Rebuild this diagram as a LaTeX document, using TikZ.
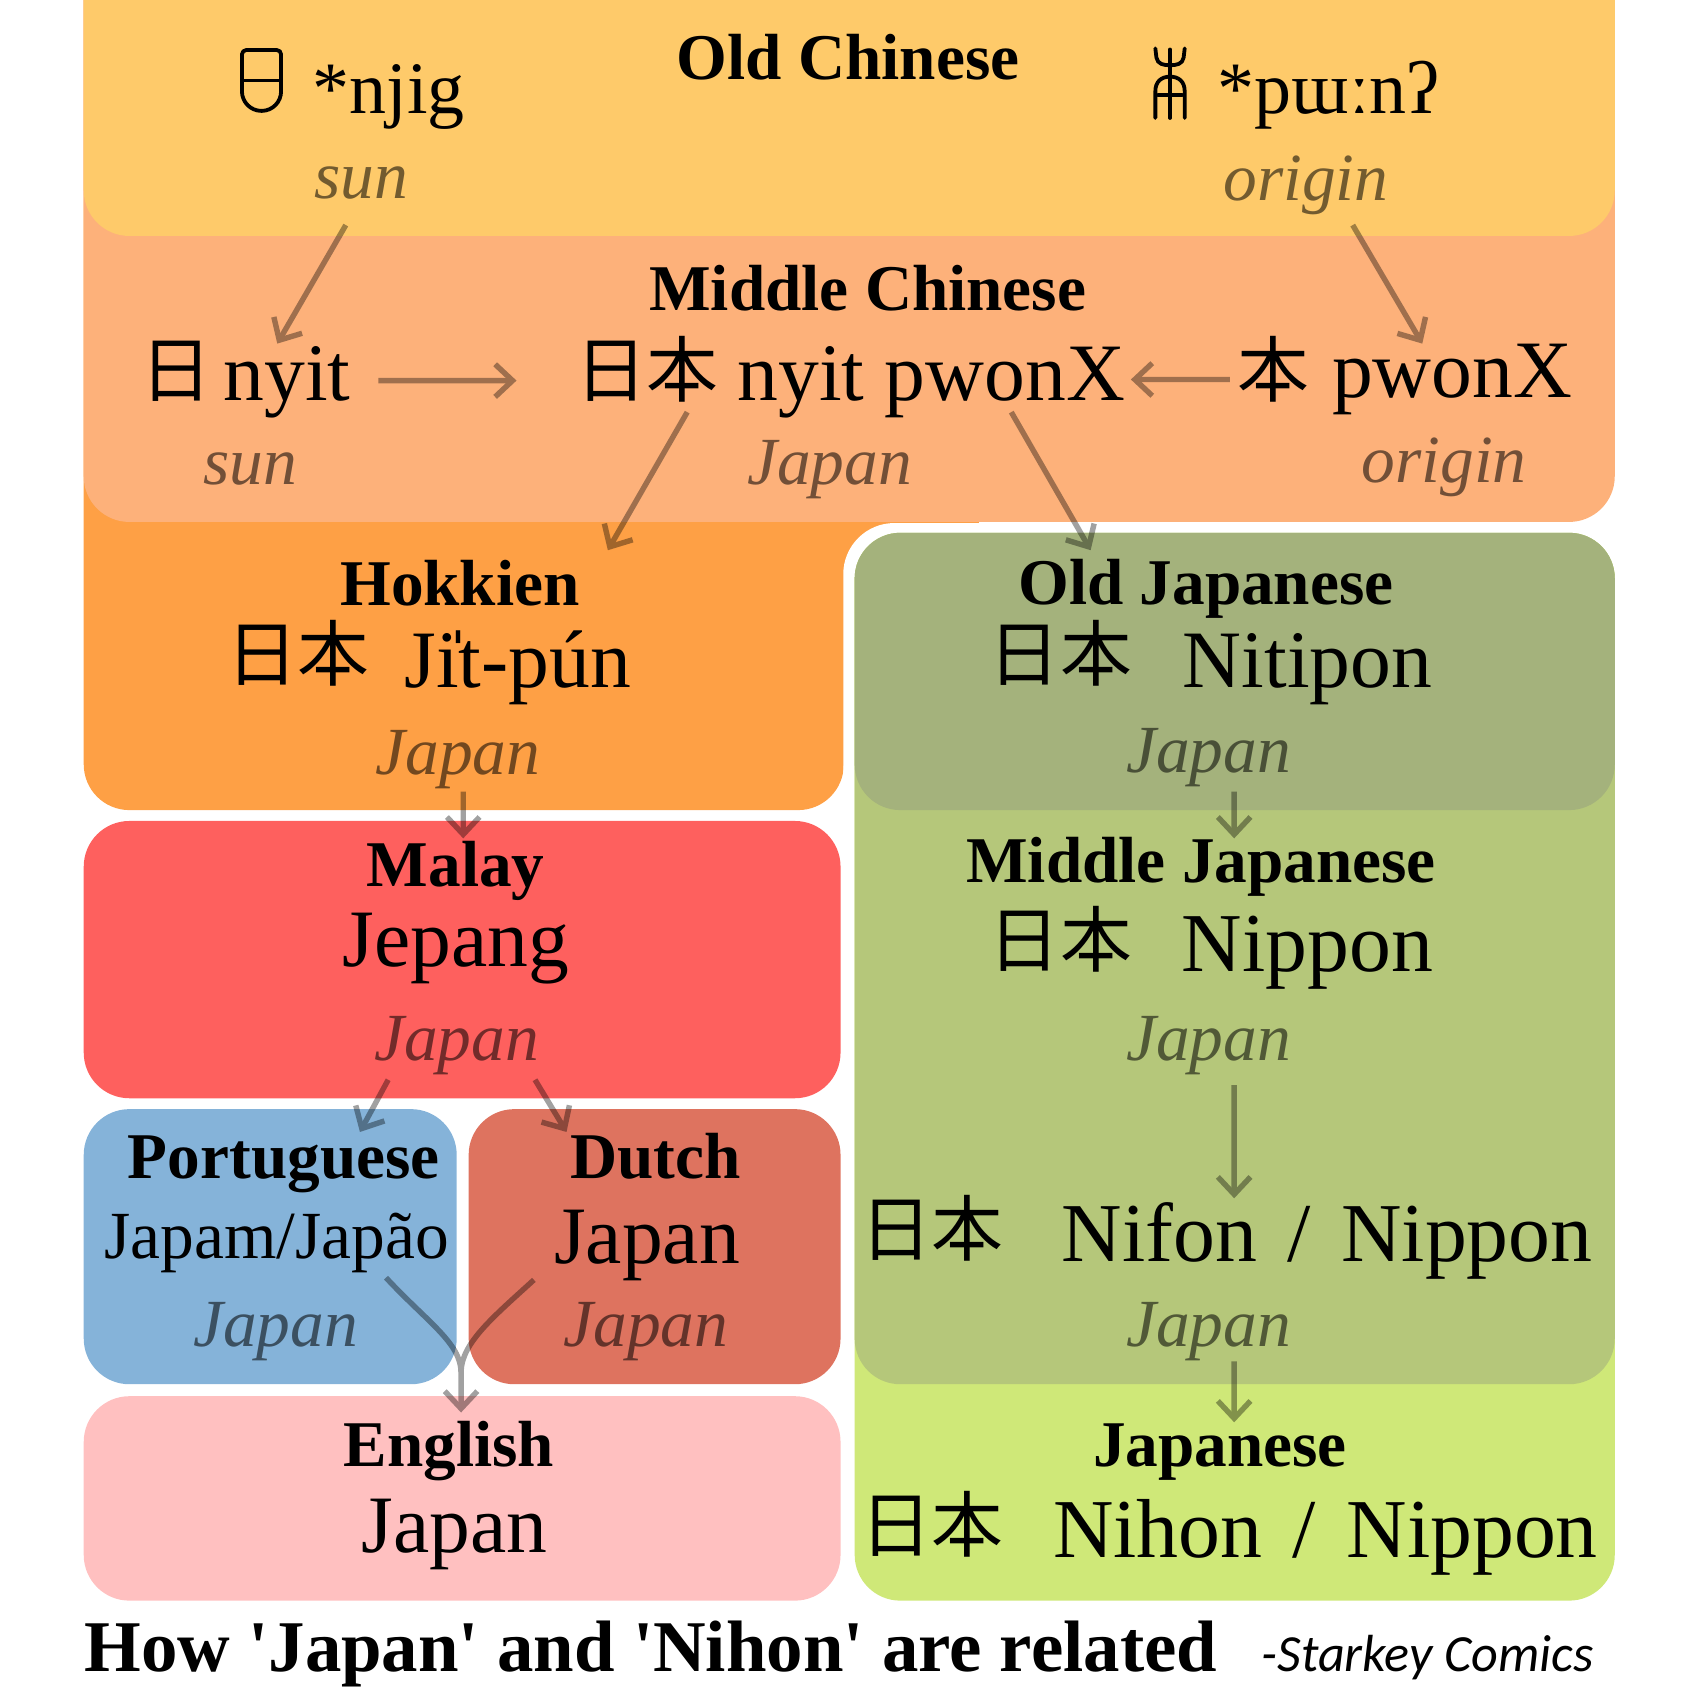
\documentclass[tikz,border=0pt]{standalone}
\usepackage{fontspec}
\setmainfont{Liberation Serif}[Ligatures=TeXOff]
\newfontfamily\cjkfont{Noto Sans CJK JP}
\newfontfamily\sigfont{Carlito}
\usetikzlibrary{arrows.meta}
\definecolor{cYellow}{RGB}{254,202,106}
\definecolor{cSalmon}{RGB}{253,177,122}
\definecolor{cOrange}{RGB}{254,160,69}
\definecolor{cMalay}{RGB}{254,96,94}
\definecolor{cBlue}{RGB}{133,179,217}
\definecolor{cDutch}{RGB}{222,115,95}
\definecolor{cPink}{RGB}{255,192,192}
\definecolor{cOJ}{RGB}{164,178,124}
\definecolor{cMJ}{RGB}{181,199,122}
\definecolor{cJ}{RGB}{207,232,120}
\tikzset{
  region/.style={rounded corners=42pt},
  head/.style={anchor=base, inner sep=0pt, font=\fontsize{60}{70}\selectfont\bfseries},
  form/.style={anchor=base, inner sep=0pt, font=\fontsize{75}{85}\selectfont},
  cjk/.style={anchor=base, inner sep=0pt, font=\fontsize{66}{76}\selectfont\cjkfont},
  gloss/.style={anchor=base, inner sep=0pt, font=\fontsize{62}{72}\selectfont\itshape, text opacity=0.55},
  seal/.style={line width=3.5pt, line cap=round, line join=round},
  link/.style={line width=5pt, -{Straight Barb[length=16pt,width=30pt]}},
  plainlink/.style={line width=5pt},
}
\begin{document}
\begin{tikzpicture}[x=1pt,y=-1pt]
\useasboundingbox (0,0) rectangle (1568,1568);
\clip (0,0) rectangle (1568,1568);
% regions
\fill[cOrange, region] (77,-60) rectangle (776,745);
\fill[cOrange] (740,440) rectangle (900,700);
\fill[cSalmon, region] (77,-60) rectangle (1485,480);
\fill[cYellow, region] (77,-60) rectangle (1485,217);
\fill[cMalay, region] (77,755) rectangle (773,1010);
\fill[cBlue, region] (77,1020) rectangle (420,1273);
\fill[cDutch, region] (431,1020) rectangle (773,1273);
\fill[cPink, region] (77,1284) rectangle (773,1472);
\fill[white, rounded corners=47pt] (775.5,481) rectangle (1496,1483);
\fill[cJ, region] (786,490) rectangle (1485,1472);
\fill[cMJ, region] (786,490) rectangle (1485,1273);
\fill[cOJ, region] (786,490) rectangle (1485,745);

% Old Chinese
\node[head] (oc) at (780,73) {Old Chinese};
\draw[seal, rounded corners=4pt] (222.5,84) -- (222.5,46) -- (258.5,46) -- (258.5,84);
\draw[seal] (258.5,84) arc[start angle=0, end angle=180, radius=18];
\draw[seal] (222.5,74) -- (258.5,74);
\node[form, font=\fontsize{68}{78}\selectfont] (njig) at (357.5,104) {*njig};
\node[gloss] (sun1) at (332,183) {sun};
\draw[seal] (1076,45.5) -- (1076,108.5);
\draw[seal] (1062.5,44.5) -- (1063.5,53) .. controls (1064.5,59) and (1070,60) .. (1076,60);
\draw[seal] (1089.5,44.5) -- (1088.5,53) .. controls (1087.5,59) and (1082,60) .. (1076,60);
\draw[seal] (1062.5,108.5) -- (1062.5,84) .. controls (1062.5,75) and (1068,70.5) .. (1076,70.5)
   .. controls (1084,70.5) and (1089.5,75) .. (1089.5,84) -- (1089.5,108.5);
\draw[seal] (1065,87.5) -- (1087,87.5);
\node[form, font=\fontsize{68}{78}\selectfont] (pwun) at (1222,104) {*pɯːnʔ};
\node[gloss] (orig1) at (1201,184) {origin};

% Middle Chinese
\node[head] (mc) at (798,286) {Middle Chinese};
\node[cjk] (ri) at (162,365) {日};
\node[form] (nyit) at (264,368) {nyit};
\node[cjk] (riben) at (595,365) {日本};
\node[form] (nyitpwon) at (856.5,368) {nyit pwonX};
\node[cjk] (ben) at (1171.5,365) {本};
\node[form] (pwon) at (1335.5,366) {pwonX};
\node[gloss] (sun2) at (230,446) {sun};
\node[gloss] (jp1) at (763,446) {Japan};
\node[gloss] (orig2) at (1328,444) {origin};

% Hokkien
\node[head] (hok) at (423,557) {Hokkien};
\node[cjk] (hokcjk) at (274,626) {日本};
\node[form] (jitpun) at (476,632) {Ji̍t-pún};
\node[gloss] (jp2) at (421,712) {Japan};

% Malay
\node[head] (mal) at (419,815) {Malay};
\node[form] (jepang) at (419.5,889) {Jepang};
\node[gloss] (jp3) at (420,975) {Japan};

% Portuguese
\node[head] (por) at (261,1084) {Portuguese};
\node[form, font=\fontsize{62}{72}\selectfont] (japao) at (254.5,1157) {Japam/Japão};
\node[gloss] (jp4) at (253.5,1238) {Japan};

% Dutch
\node[head] (dut) at (603,1084) {Dutch};
\node[form] (dutjp) at (595,1162) {Japan};
\node[gloss] (jp5) at (594,1238) {Japan};

% English
\node[head] (eng) at (413,1349) {English};
\node[form] (engjp) at (418,1428) {Japan};

% Japanese side
\node[head] (oj) at (1109,556) {Old Japanese};
\node[cjk] (ojcjk) at (975,626) {日本};
\node[form] (nitipon) at (1202.5,632) {Nitipon};
\node[gloss] (jp6) at (1111.5,710) {Japan};

\node[head] (mj) at (1104.5,812) {Middle Japanese};
\node[cjk] (mjcjk) at (975,889) {日本};
\node[form, font=\fontsize{77}{87}\selectfont] (nippon1) at (1202.5,893) {Nippon};
\node[gloss] (jp7) at (1111.5,975) {Japan};

\node[cjk] (emjcjk) at (857,1155) {日本};
\node[form, font=\fontsize{77}{87}\selectfont] (nifon) at (1220.5,1160) {Nifon\hspace{28pt}/\hspace{28pt}Nippon};
\node[gloss] (jp8) at (1111.5,1238) {Japan};

\node[head] (jap) at (1122,1349) {Japanese};
\node[cjk] (japcjk) at (857,1427) {日本};
\node[form, font=\fontsize{77}{87}\selectfont] (nihon) at (1219,1432) {Nihon\hspace{28pt}/\hspace{28pt}Nippon};

% title
\node[anchor=base, inner sep=0pt, font=\fontsize{67}{77}\selectfont\bfseries] (title) at (598.5,1537) {How 'Japan' and 'Nihon' are related};
\node[anchor=base, inner sep=0pt, font=\fontsize{48}{58}\selectfont\sigfont\itshape] (credit) at (1313,1537) {-Starkey Comics};

% connector end points
\coordinate (a1s) at (318,207);   \coordinate (a1e) at (255,316);
\coordinate (a2s) at (1244,207);  \coordinate (a2e) at (1308,316);
\coordinate (a3s) at (348,350);   \coordinate (a3e) at (475,350);
\coordinate (a4s) at (1131,349);  \coordinate (a4e) at (1040,349);
\coordinate (a5s) at (632,379);   \coordinate (a5e) at (559,506);
\coordinate (a6s) at (930,379);   \coordinate (a6e) at (1003,506);
\coordinate (a7s) at (426,728);   \coordinate (a7e) at (426,771);
\coordinate (a8s) at (357,993);   \coordinate (a8e) at (331,1041);
\coordinate (a9s) at (492,993);   \coordinate (a9e) at (521,1041);
\coordinate (b1s) at (1135,728);  \coordinate (b1e) at (1135,771);
\coordinate (b2s) at (1135,998);  \coordinate (b2e) at (1135,1102);
\coordinate (b3s) at (1135,1252); \coordinate (b3e) at (1135,1308);
\coordinate (eps) at (355,1175);  \coordinate (eds) at (491,1177);
\coordinate (emerge) at (424,1262); \coordinate (ee) at (424,1299);

\begin{scope}[transparency group, opacity=0.37]
\draw[link] (a1s) -- (a1e);
\draw[link] (a2s) -- (a2e);
\draw[link] (a3s) -- (a3e);
\draw[link] (a4s) -- (a4e);
\draw[link] (a5s) -- (a5e);
\draw[link] (a6s) -- (a6e);
\draw[link] (a7s) -- (a7e);
\draw[link] (a8s) -- (a8e);
\draw[link] (a9s) -- (a9e);
\draw[link] (b1s) -- (b1e);
\draw[link] (b2s) -- (b2e);
\draw[link] (b3s) -- (b3e);
\draw[link] (eps) .. controls (392,1215) and (424,1235) .. (emerge) -- (ee);
\draw[plainlink] (eds) .. controls (455,1210) and (424,1235) .. (emerge);
\end{scope}
\end{tikzpicture}
\end{document}
